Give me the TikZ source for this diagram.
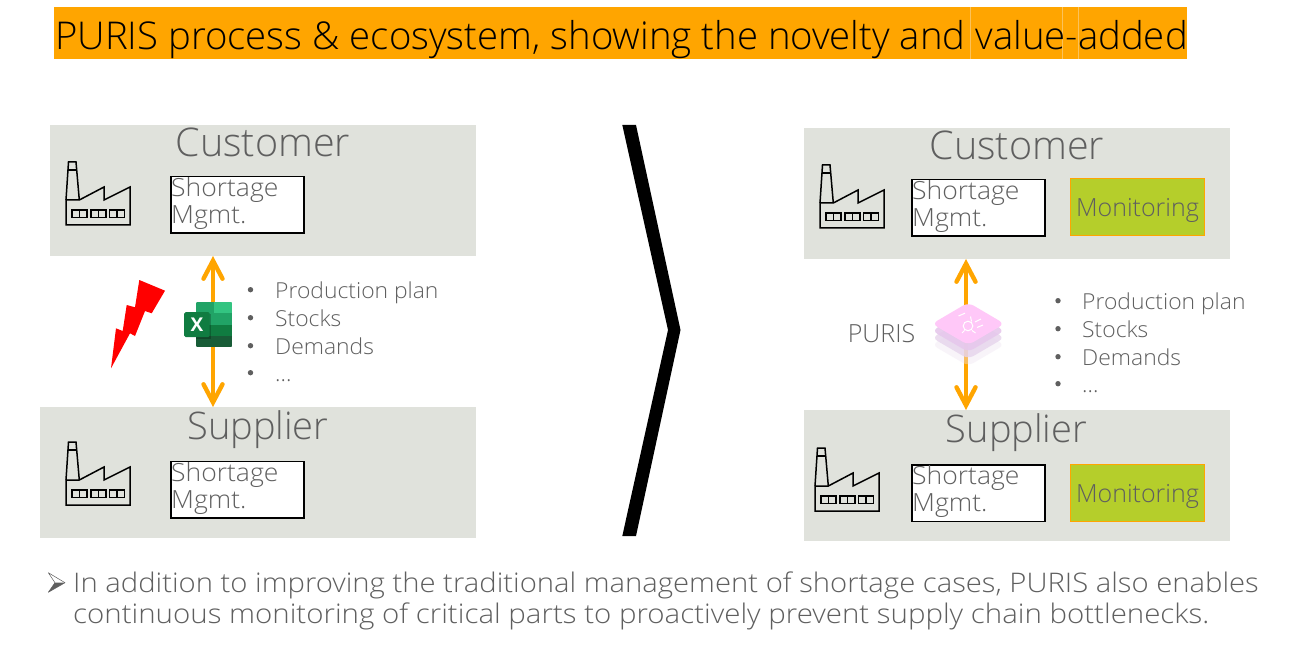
\documentclass[tikz,border=0pt]{standalone}
\usepackage{fontspec}
\setmainfont{Open Sans Light}
\newfontfamily\xlfont{Open Sans Bold}
\newfontfamily\wideA[FakeStretch=1.083]{Open Sans Light}
\newfontfamily\wideD[FakeStretch=1.091]{Open Sans Light}
\newfontfamily\wideB[FakeStretch=1.04]{Open Sans Light}
\newfontfamily\wideC[FakeStretch=1.06]{Open Sans Light}
\usetikzlibrary{arrows.meta}
\definecolor{txt}{HTML}{5F5F5F}
\definecolor{panel}{HTML}{E0E2DC}
\definecolor{amber}{HTML}{FFA500}
\definecolor{mon}{HTML}{B5CE2B}
\definecolor{seam}{HTML}{FBC25A}
\definecolor{xa}{HTML}{21A366}
\definecolor{xb}{HTML}{33C481}
\definecolor{xc}{HTML}{107C41}
\definecolor{xd}{HTML}{185C37}
\tikzset{
  x=1pt,y=-1pt,
  panelbox/.style={fill=panel,draw=none,inner sep=0pt,outer sep=0pt,anchor=north west},
  mgmt/.style={draw=black,line width=1.8pt,fill=white,minimum width=133pt,minimum height=56.5pt,inner sep=0pt,outer sep=0pt,anchor=north west},
  monbox/.style={draw=amber,line width=1.8pt,fill=mon,minimum width=134pt,minimum height=57pt,inner sep=0pt,outer sep=0pt,anchor=north west,text=txt,font=\fontsize{25}{25}\selectfont},
  lbl/.style={text=txt,inner sep=0pt,anchor=base},
  mtxt/.style={text=txt,inner sep=0pt,anchor=north west,align=left,font=\wideC\fontsize{25}{27}\selectfont},
  bul/.style={text=txt,inner sep=0pt,anchor=base west,font=\wideB\fontsize{22}{22}\selectfont},
  dbl/.style={draw=amber,line width=4.4pt,{Straight Barb[length=18pt,width=19pt,line cap=round]}-{Straight Barb[length=18pt,width=19pt,line cap=round]}},
  pics/factory/.style={code={
    \draw[black,line width=1.5pt,line join=miter]
      (0,39)--(13.3,39)--(38,26)--(38,39)--(64,26)--(64,64)--(0,64)--cycle;
    \draw[black,line width=1.5pt,line join=miter]
      (0,39)--(2.5,1)--(10,1)--(13.3,39);
    \draw[black,line width=1.2pt] (1.8,9)--(11,9);
    \foreach \wx in {6,25,43.5}{
      \draw[black,line width=1.2pt] (\wx,49) rectangle ++(15,7.5);
      \draw[black,line width=1.2pt] (\wx+7.5,49)--(\wx+7.5,56.5);
    }
  }}
}
\begin{document}
\begin{tikzpicture}
\useasboundingbox (0,0) rectangle (1316,660);
\fill[white] (0,0) rectangle (1316,660);
% title
\node[fill=amber,anchor=north west,minimum width=1133pt,minimum height=52pt,inner sep=0pt] (title) at (54,7) {};
\foreach \sx in {970.5,1062.5,1078.5}{\draw[seam,line width=.6pt] (\sx,7)--(\sx,59);}
\node[inner sep=0pt,anchor=base west,text=black,font=\fontsize{38.3}{38.3}\selectfont] (titletext) at (55,49.3) {PURIS process \& ecosystem, showing the novelty and value-added};
% left panels
\node[panelbox,minimum width=426pt,minimum height=131pt] (lc) at (50,125) {};
\node[panelbox,minimum width=436pt,minimum height=131pt] (ls) at (40,407) {};
\node[lbl,font=\fontsize{39.5}{39.5}\selectfont] (lct) at (263,156.5) {Customer};
\node[lbl,font=\fontsize{38}{38}\selectfont] (lst) at (258,439) {Supplier};
\node[mgmt] (lcm) at (171,176.5) {};
\node[mtxt] (lcmt) at (171,177) {Shortage\\Mgmt.};
\node[mgmt] (lsm) at (171,461.5) {};
\node[mtxt] (lsmt) at (171,462) {Shortage\\Mgmt.};
\pic at (66,161) {factory};
\pic at (66,441) {factory};
% lightning
\fill[red] (139.3,280)--(165,290.7)--(151.7,313.3)--(145,311)--(135,336)--(130,333.3)--(111,368.3)--(116,328.3)--(122.7,331)--(126.7,305)--(135,307.3)--cycle;
% arrow left
\coordinate (la) at (213,300);
\draw[dbl] (lc.south -| la) -- (ls.north -| la);
% excel icon
\begin{scope}
\clip[rounded corners=1.5pt] (195.7,302) rectangle (232.7,347);
\fill[xa] (195.7,302) rectangle (214.2,324.5);
\fill[xb] (214.2,302) rectangle (232.7,313.2);
\fill[xa] (214.2,313.2) rectangle (232.7,324.5);
\fill[xc] (195.7,324.5) rectangle (232.7,335.7);
\fill[xd] (195.7,335.7) rectangle (232.7,347);
\end{scope}
\fill[black,opacity=.22] (195.7,314) rectangle (211,339);
\node[fill=xc,rounded corners=1.5pt,minimum width=25.5pt,minimum height=25pt,inner sep=0pt,anchor=north west,text=white,font=\xlfont\fontsize{19}{19}\selectfont] (xbadge) at (184,312) {X};
% left list
\foreach \yy/\lab/\nm in {298/{Production plan}/a,326/{Stocks}/b,354/{Demands}/c,381/{...}/d}{
  \node[bul] (l\nm) at (275,\yy) {\lab};
  \fill[txt] (250.5,\yy-8.3) circle (2.7);
}
% chevron
\fill[black] (622.3,125)--(636,125)--(680.5,330)--(636,536)--(622.3,536)--(668,330)--cycle;
% right panels
\node[panelbox,minimum width=426pt,minimum height=131pt] (rc) at (804,128) {};
\node[panelbox,minimum width=426pt,minimum height=131pt] (rs) at (804,410) {};
\node[lbl,font=\fontsize{39.5}{39.5}\selectfont] (rct) at (1017,159.5) {Customer};
\node[lbl,font=\fontsize{38}{38}\selectfont] (rst) at (1016.5,442) {Supplier};
\node[mgmt] (rcm) at (912,179.5) {};
\node[mtxt] (rcmt) at (912,180) {Shortage\\Mgmt.};
\node[mgmt] (rsm) at (912,465) {};
\node[mtxt] (rsmt) at (912,465) {Shortage\\Mgmt.};
\node[monbox,text depth=0pt] (rcb) at (1070.5,178.5) {\raisebox{-1pt}{Monitoring}};
\node[monbox,text depth=0pt] (rsb) at (1070.5,464.5) {\raisebox{-1pt}{Monitoring}};
\pic at (820,164) {factory};
\pic at (815,447) {factory};
\coordinate (ra) at (966,300);
\draw[dbl] (rc.south -| ra) -- (rs.north -| ra);
% PURIS icon
\foreach \dy/\cc/\op in {21/EFE4F2/.4,14/E6D4EC/.8,7/E6C8EC/.9,0/FFC8F8/1}{
  \definecolor{layerc}{HTML}{\cc}
  \fill[layerc,opacity=\op,rounded corners=6pt] (968.3,302.5+\dy)--(1004.5,323.8+\dy)--(968.3,345+\dy)--(932,323.8+\dy)--cycle;
}
\begin{scope}[white,line width=1pt]
\draw (968,326) circle (4.8);
\draw (958.5,316)--(965,313.2);
\draw (970.5,316.5)--(971.5,321.5);
\draw (975,322)--(981,319);
\draw (977,327.5)--(983,325);
\draw (964.5,330.5)--(962,333);
\draw (972,330.5)--(975.5,333);
\end{scope}
\node[lbl,font=\fontsize{25}{25}\selectfont] (puris) at (881.5,342.3) {PURIS};
\foreach \yy/\lab/\nm in {309/{Production plan}/a,337/{Stocks}/b,365/{Demands}/c,392/{...}/d}{
  \node[bul] (r\nm) at (1082,\yy) {\lab};
  \fill[txt] (1058,\yy-8.3) circle (2.7);
}
% bottom
\node[text=txt,inner sep=0pt,anchor=base west,font=\wideA\fontsize{27}{27}\selectfont] (b1) at (73,592) {In addition to improving the traditional management of shortage cases, PURIS also enables};
\node[text=txt,inner sep=0pt,anchor=base west,font=\wideD\fontsize{27}{27}\selectfont] (b2) at (73,623) {continuous monitoring of critical parts to proactively prevent supply chain bottlenecks.};
\draw[txt,line width=.5pt,fill=white,line join=round] (48.3,572.7)--(65,582.7)--(48.3,592.3)--(55,582.7)--cycle;
\fill[txt] (48.3,592.3)--(65,582.7)--(55,582.7)--cycle;
\end{tikzpicture}
\end{document}
